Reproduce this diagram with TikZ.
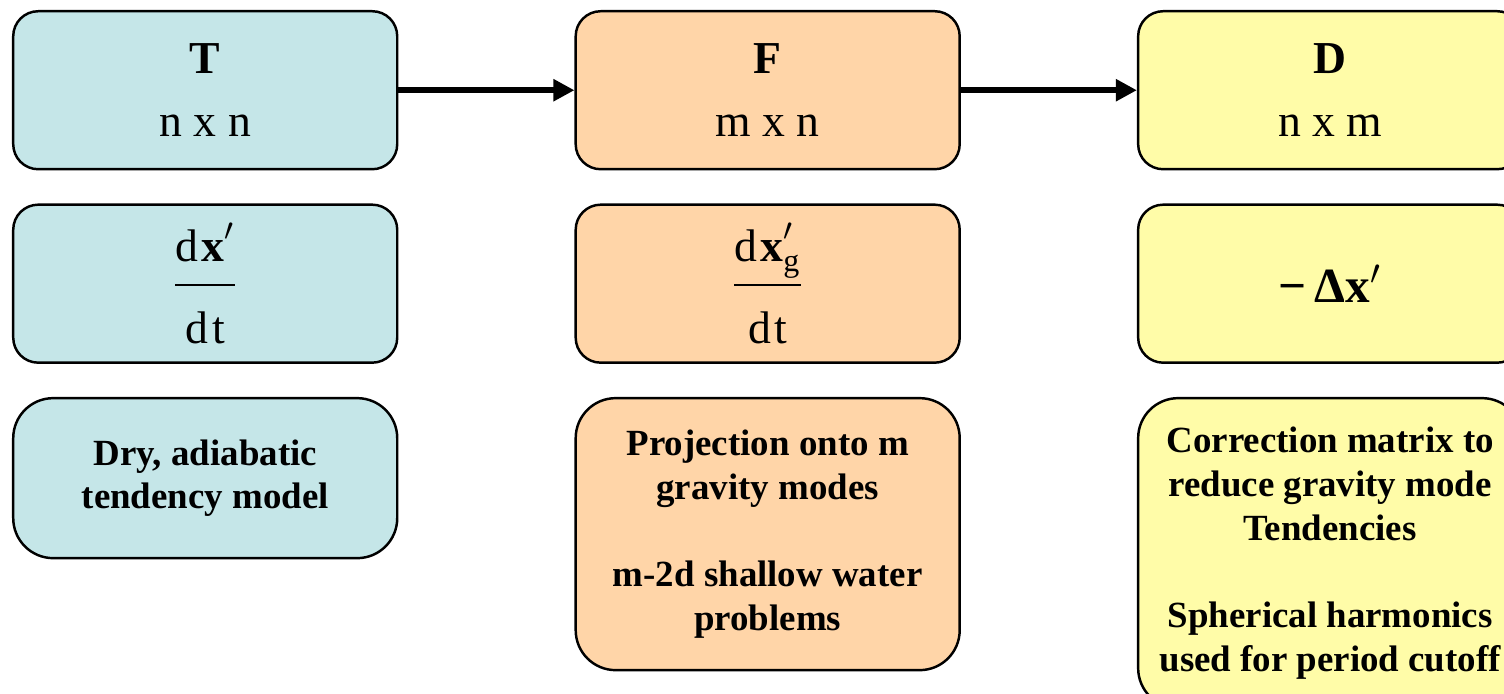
\documentclass[tikz,border=0pt]{standalone}
\usepackage{amsmath}
\usepackage{fontspec}
\setmainfont{Liberation Serif}
\usetikzlibrary{arrows.meta,positioning}
\definecolor{cTeal}{RGB}{197,230,232}
\definecolor{cPeach}{RGB}{255,213,168}
\definecolor{cLemon}{RGB}{255,252,168}
\tikzset{
  basebox/.style={rectangle,rounded corners=0.25cm,draw=black,line width=0.7pt,
                  align=center,inner sep=0pt,minimum width=3.84cm,minimum height=1.58cm},
  tealnode/.style={basebox,fill=cTeal},
  peachnode/.style={basebox,fill=cPeach},
  lemonnode/.style={basebox,fill=cLemon},
  headtxt/.style={font=\fontsize{13}{18}\selectfont},
  notetxt/.style={font=\fontsize{10.5}{12.5}\selectfont\bfseries,rounded corners=0.4cm},
  arr/.style={-{Triangle[length=6pt,width=6pt]},line width=1.6pt}
}
\newcommand{\ratefrac}[2]{$\displaystyle\frac{#1\rule[-5pt]{0pt}{0pt}}{\rule{0pt}{15pt}#2}$}

\begin{document}
\begin{tikzpicture}[node distance=0.33cm and 1.76cm]

  \useasboundingbox (0,0) rectangle (15.04,-6.94);
  \clip (0,0) rectangle (15.04,-6.94);

  % top row: the three matrices
  \node[tealnode,headtxt,anchor=north west] (T) at (0.12,-0.10)
      {\textbf{T}\\n x n};
  \node[peachnode,headtxt,right=of T] (F) {\textbf{F}\\m x n};
  \node[lemonnode,headtxt,right=of F] (D) {\textbf{D}\\n x m};

  % middle row: tendencies
  \node[tealnode,headtxt,below=of T] (Tdx)
      {\ratefrac{\text{d\kern1pt\textbf{x}}'}{\text{d\kern1pt t}}};
  \node[peachnode,headtxt,below=of F] (Fdx)
      {\ratefrac{\text{d\kern1pt\textbf{x}}^{\prime}_{\text{g}}}{\text{d\kern1pt t}}};
  \node[lemonnode,headtxt,font=\fontsize{14}{18}\selectfont,below=of D] (Ddx)
      {\textbf{−\,Δx}$'$};

  % bottom row: notes
  \node[tealnode,notetxt,minimum height=1.60cm,below=of Tdx] (Tnote)
      {Dry, adiabatic\\tendency model};
  \node[peachnode,notetxt,minimum height=2.72cm,below=of Fdx] (Fnote)
      {Projection onto m\\gravity modes\\[12.5pt]m-2d shallow water\\problems};
  \node[lemonnode,notetxt,minimum height=3.10cm,below=of Ddx] (Dnote)
      {Correction matrix to\\reduce gravity mode\\Tendencies\\[12.5pt]Spherical harmonics\\used for period cutoff};

  \draw[arr] (T) -- (F);
  \draw[arr] (F) -- (D);

\end{tikzpicture}
\end{document}
